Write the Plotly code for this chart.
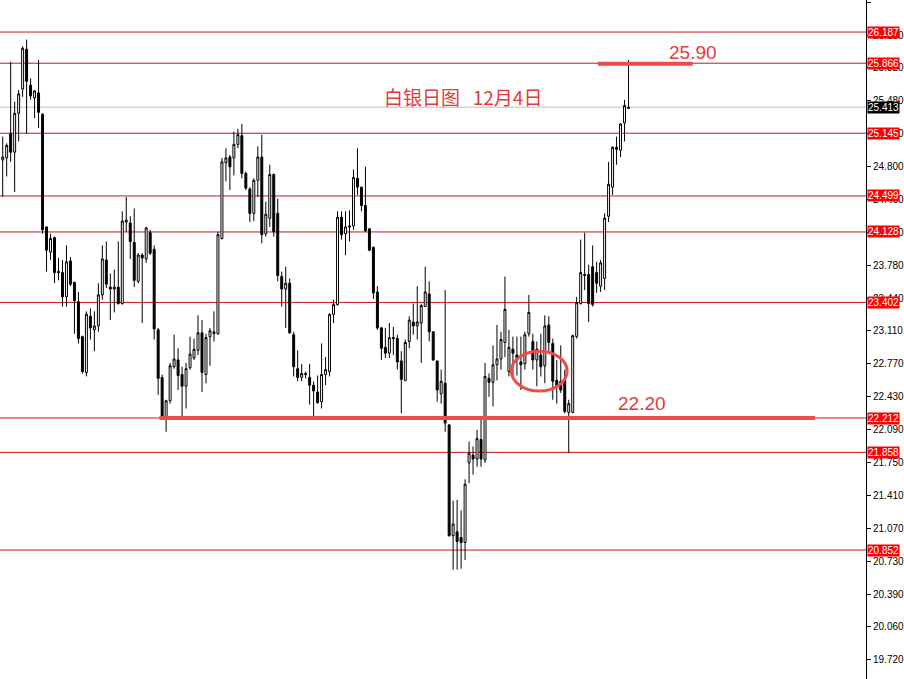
import plotly.graph_objects as go

# ---- data (silver daily candles) ----
opens = [24.87, 24.89, 25.14, 24.95, 25.35, 25.60, 26.01, 25.64, 25.51, 25.56,
         25.34, 24.18, 23.92, 24.07, 23.72, 23.71, 23.46, 23.83, 23.61, 23.41,
         23.05, 22.68, 23.26, 23.12, 23.16, 23.48, 23.84, 23.56, 23.54, 23.56,
         23.39, 24.23, 24.22, 24.02, 23.62, 23.89, 23.85, 24.12, 23.95, 23.12,
         22.63, 22.21, 22.39, 22.74, 22.81, 22.66, 22.54, 22.73, 22.83, 22.91,
         23.09, 22.66, 23.05, 23.08, 23.08, 24.06, 24.84, 24.90, 24.89, 25.03,
         25.12, 24.73, 24.57, 24.32, 24.66, 24.90, 24.11, 24.27, 24.72, 24.32,
         23.67, 23.54, 23.60, 23.07, 22.72, 22.63, 22.67, 22.63, 22.55, 22.48,
         22.38, 22.66, 22.69, 23.28, 23.38, 24.28, 24.11, 24.19, 24.19, 24.68,
         24.59, 24.40, 24.16, 23.97, 23.51, 23.14, 22.94, 22.88, 23.04, 23.03,
         22.80, 22.60, 23.00, 23.20, 23.16, 23.19, 23.36, 23.49, 23.10, 22.80,
         22.46, 22.57, 22.14, 21.00, 21.04, 20.98, 20.93, 21.75, 21.83, 21.79,
         21.99, 21.78, 22.62, 22.58, 22.76, 22.82, 22.99, 22.69, 22.92, 22.86,
         22.79, 22.77, 23.08, 23.00, 22.81, 22.86, 22.75, 23.17, 22.98, 22.60,
         22.59, 22.60, 22.27, 22.27, 23.05, 23.39, 23.69, 23.69, 23.77, 23.71,
         23.57, 23.65, 24.29, 24.59, 25.00, 24.97, 25.25, 25.40]
highs = [25.11, 25.04, 25.88, 25.47, 25.59, 26.04, 26.11, 25.71, 25.59, 25.90,
         25.35, 24.18, 24.11, 24.08, 23.86, 23.84, 23.99, 23.87, 23.61, 23.51,
         23.06, 23.31, 23.34, 23.31, 23.60, 23.99, 24.03, 23.70, 23.74, 24.03,
         24.34, 24.49, 24.29, 24.37, 23.91, 23.91, 24.18, 24.15, 23.99, 23.14,
         22.66, 22.40, 22.78, 23.07, 22.93, 22.74, 22.78, 23.05, 23.03, 23.27,
         23.22, 23.08, 23.14, 23.31, 24.13, 24.89, 24.99, 24.92, 25.16, 25.19,
         25.24, 24.75, 24.59, 24.68, 25.01, 25.13, 24.44, 24.82, 24.73, 24.47,
         23.72, 23.77, 23.65, 23.10, 22.91, 22.77, 22.69, 22.77, 22.59, 22.65,
         22.98, 22.84, 23.29, 23.43, 24.34, 24.34, 24.34, 24.35, 24.77, 24.99,
         24.59, 24.80, 24.17, 23.98, 23.57, 23.15, 23.14, 23.19, 23.15, 23.07,
         22.90, 23.02, 23.26, 23.39, 23.57, 23.39, 23.77, 23.62, 23.10, 22.80,
         22.71, 23.53, 22.15, 21.36, 21.37, 21.26, 21.58, 21.97, 21.92, 22.09,
         22.21, 22.78, 22.67, 22.96, 23.17, 23.10, 23.67, 23.12, 23.05, 23.05,
         23.05, 23.10, 23.48, 23.08, 23.00, 23.08, 23.27, 23.26, 23.03, 22.81,
         22.96, 22.71, 22.40, 23.07, 23.46, 24.05, 24.12, 23.79, 23.99, 23.82,
         23.84, 24.32, 24.85, 25.01, 25.11, 25.25, 25.49, 25.90]
lows = [24.49, 24.70, 24.85, 24.54, 25.06, 25.52, 25.14, 25.49, 25.30, 25.20,
        24.11, 23.72, 23.84, 23.60, 23.63, 23.36, 23.36, 23.57, 23.08, 22.98,
        22.67, 22.64, 23.02, 22.90, 23.10, 23.43, 23.55, 23.22, 23.30, 23.38,
        23.38, 24.13, 23.85, 23.56, 23.60, 23.19, 23.81, 23.89, 23.02, 22.45,
        22.19, 22.07, 22.36, 22.72, 22.50, 22.23, 22.31, 22.71, 22.81, 22.86,
        22.48, 22.57, 22.75, 23.00, 23.07, 24.05, 24.65, 24.56, 24.71, 24.99,
        24.68, 24.56, 24.23, 24.24, 24.49, 24.01, 24.08, 24.18, 24.08, 23.62,
        23.36, 23.14, 23.08, 22.64, 22.59, 22.59, 22.62, 22.35, 22.21, 22.36,
        22.31, 22.55, 22.64, 23.19, 23.37, 24.05, 23.89, 24.03, 24.15, 24.51,
        24.34, 24.13, 23.93, 23.44, 23.12, 22.81, 22.83, 22.83, 22.86, 22.71,
        22.26, 22.59, 22.93, 23.07, 23.02, 22.78, 23.36, 23.00, 22.80, 22.38,
        22.36, 22.07, 20.99, 20.65, 20.65, 20.66, 20.75, 21.54, 21.63, 21.71,
        21.71, 21.75, 22.43, 22.33, 22.60, 22.71, 22.84, 22.64, 22.62, 22.65,
        22.50, 22.71, 23.05, 22.71, 22.54, 22.64, 22.57, 22.88, 22.40, 22.36,
        22.47, 22.26, 21.85, 22.26, 23.03, 23.38, 23.53, 23.20, 23.36, 23.50,
        23.51, 23.53, 24.23, 24.51, 24.82, 24.90, 25.06, 25.40]
closes = [24.90, 25.02, 24.95, 25.35, 25.55, 26.02, 25.68, 25.53, 25.58, 25.36,
          24.15, 23.94, 24.06, 23.71, 23.71, 23.46, 23.82, 23.59, 23.42, 23.03,
          22.69, 23.28, 23.14, 23.16, 23.48, 23.85, 23.59, 23.54, 23.56, 23.39,
          24.24, 24.25, 24.03, 23.63, 23.89, 23.86, 24.17, 23.91, 23.13, 22.62,
          22.22, 22.39, 22.75, 22.82, 22.65, 22.54, 22.72, 22.87, 22.92, 23.09,
          22.68, 23.04, 23.11, 23.10, 24.10, 24.85, 24.89, 24.80, 25.03, 25.13,
          24.73, 24.58, 24.32, 24.66, 24.90, 24.10, 24.31, 24.72, 24.13, 23.68,
          23.54, 23.60, 23.09, 22.74, 22.63, 22.67, 22.66, 22.55, 22.49, 22.37,
          22.66, 22.71, 23.28, 23.38, 24.28, 24.10, 24.18, 24.18, 24.69, 24.59,
          24.40, 24.14, 23.94, 23.50, 23.14, 22.93, 22.88, 23.04, 23.03, 22.79,
          22.61, 22.99, 23.22, 23.16, 23.20, 23.37, 23.51, 23.10, 22.81, 22.50,
          22.59, 22.16, 21.00, 21.12, 20.94, 20.93, 21.53, 21.85, 21.79, 22.00,
          21.79, 22.64, 22.58, 22.76, 22.82, 23.02, 23.33, 22.94, 22.88, 22.83,
          22.76, 23.07, 23.30, 22.81, 22.92, 22.74, 23.16, 22.99, 22.59, 22.54,
          22.50, 22.28, 22.36, 23.06, 23.40, 23.71, 23.68, 23.39, 23.38, 23.60,
          23.81, 24.27, 24.62, 25.00, 24.98, 25.24, 25.43, 25.413]

red_levels = [26.187, 25.866, 25.145, 24.499, 24.128, 23.402, 22.212, 21.858, 20.852]
current_price = 25.413
tick_values = [26.490, 26.150, 25.820, 25.480, 25.140, 24.800, 24.460, 24.120, 23.780,
               23.440, 23.110, 22.770, 22.430, 22.090, 21.750, 21.410, 21.070, 20.730,
               20.390, 20.060, 19.720]
title_text = "白银日图\u00a0\u00a0\u00a012月4日"
resistance_label = "25.90"
support_label = "22.20"
resistance_level = 25.86
support_level = 22.212

x_idx = list(range(len(opens)))

RED_LINE = "#c8161d"
MARK_RED = "#ee4b4b"
TEXT_RED = "#e23b3b"

fig = go.Figure()
fig.add_trace(go.Candlestick(
    x=x_idx, open=opens, high=highs, low=lows, close=closes,
    increasing=dict(line=dict(color="black", width=1), fillcolor="white"),
    decreasing=dict(line=dict(color="black", width=1), fillcolor="black"),
    whiskerwidth=0, showlegend=False, hoverinfo="skip",
))

shapes = []
for lv in red_levels:
    shapes.append(dict(type="line", xref="paper", x0=0, x1=1, yref="y", y0=lv, y1=lv,
                       line=dict(color=RED_LINE, width=1), layer="below"))
shapes.append(dict(type="line", xref="paper", x0=0, x1=1, yref="y",
                   y0=current_price, y1=current_price,
                   line=dict(color="#c0c0c0", width=1), layer="below"))
# thick support / resistance marks
shapes.append(dict(type="line", xref="x", x0=39.3, x1=203.8, yref="y",
                   y0=support_level, y1=support_level,
                   line=dict(color=MARK_RED, width=4)))
shapes.append(dict(type="line", xref="x", x0=149.3, x1=173.1, yref="y",
                   y0=resistance_level, y1=resistance_level,
                   line=dict(color=MARK_RED, width=4)))
# ellipse
shapes.append(dict(type="circle", xref="x", yref="y", x0=127.6, x1=141.6,
                   y0=22.49, y1=22.90, line=dict(color=MARK_RED, width=3)))

annotations = []
for lv in red_levels:
    annotations.append(dict(xref="paper", x=1, xanchor="left", xshift=1, yref="y", y=lv,
                            yanchor="middle", text=f"{lv:.3f}", showarrow=False,
                            bgcolor="#ff0000", borderpad=0,
                            font=dict(color="white", size=10, family="Liberation Sans")))
annotations.append(dict(xref="paper", x=1, xanchor="left", xshift=1, yref="y", y=current_price,
                        yanchor="middle", text=f"{current_price:.3f}", showarrow=False,
                        bgcolor="black", borderpad=0,
                        font=dict(color="white", size=10, family="Liberation Sans")))
annotations.append(dict(x=115.6, y=25.528, xref="x", yref="y", text=title_text, showarrow=False,
                        font=dict(color=TEXT_RED, size=19, family="Noto Sans CJK SC")))
annotations.append(dict(x=173.1, y=25.981, xref="x", yref="y", text=resistance_label,
                        showarrow=False, font=dict(color=TEXT_RED, size=19, family="Liberation Sans")))
annotations.append(dict(x=160.3, y=22.366, xref="x", yref="y", text=support_label,
                        showarrow=False, font=dict(color=TEXT_RED, size=19, family="Liberation Sans")))

fig.update_layout(
    width=904, height=679,
    margin=dict(l=0, r=35, t=0, b=0),
    paper_bgcolor="white", plot_bgcolor="white",
    shapes=shapes, annotations=annotations,
    xaxis=dict(range=[-0.675, 216.575], showgrid=False, zeroline=False,
               showticklabels=False, ticks="", rangeslider=dict(visible=False),
               fixedrange=True),
    yaxis=dict(range=[19.524, 26.517], side="right", showgrid=False, zeroline=False,
               tickvals=tick_values, ticktext=[f"{v:.3f}" for v in tick_values],
               ticks="outside", ticklen=4, tickcolor="black",
               showline=True, linecolor="black", linewidth=1,
               tickfont=dict(size=10, color="black", family="Liberation Sans"),
               fixedrange=True),
    font=dict(family="Liberation Sans"),
)

fig.write_html("out.html",
               config={"displayModeBar": False},
               post_script="document.body.style.margin='0';document.body.style.overflow='hidden';")
